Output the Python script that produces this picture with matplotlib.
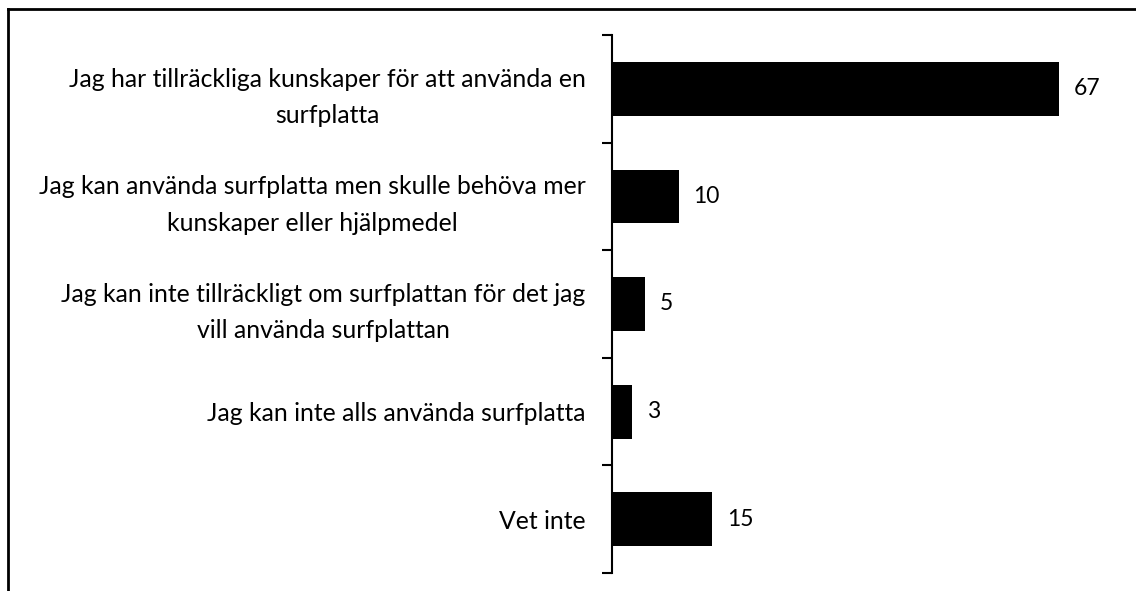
import matplotlib
matplotlib.use('Agg')
import matplotlib.pyplot as plt
import numpy as np
from matplotlib.lines import Line2D

categories = [
    'Jag har tillräckliga kunskaper för att använda en\nsurfplatta',
    'Jag kan använda surfplatta men skulle behöva mer\nkunskaper eller hjälpmedel',
    'Jag kan inte tillräckligt om surfplattan för det jag\nvill använda surfplattan',
    'Jag kan inte alls använda surfplatta',
    'Vet inte',
]
values = [67, 10, 5, 3, 15]

plt.rcParams['font.family'] = ['Lato', 'DejaVu Sans']

fig = plt.figure(figsize=(11.36, 5.91), dpi=100)
ax = fig.add_axes([612 / 1136, 18 / 591, 524 / 1136, 538 / 591])

y = np.arange(len(categories))
ax.barh(y, values, height=0.5, color='black')
ax.set_ylim(len(categories) - 0.5, -0.5)
ax.set_xlim(0, 524 / 6.67)

for yi, v in zip(y, values):
    ax.text(v + 2.2, yi, str(v), va='center', ha='left', fontsize=16.5)

ax.set_yticks(y)
ax.set_yticklabels(categories, fontsize=17.8, multialignment='center', linespacing=1.7)
ax.tick_params(axis='y', which='major', length=0, pad=19)
ax.set_yticks(np.arange(-0.5, len(categories)), minor=True)
ax.tick_params(axis='y', which='minor', length=7, width=1.5, direction='out')
ax.set_xticks([])
for s in ['top', 'right', 'bottom']:
    ax.spines[s].set_visible(False)
ax.spines['left'].set_linewidth(1.5)

# frame of the screenshot
fig.add_artist(Line2D([8 / 1136, 8 / 1136], [0, 582 / 591], color='black', lw=2, transform=fig.transFigure))
fig.add_artist(Line2D([8 / 1136, 1], [582 / 591, 582 / 591], color='black', lw=2, transform=fig.transFigure))

fig.savefig('out.png', dpi=100)
